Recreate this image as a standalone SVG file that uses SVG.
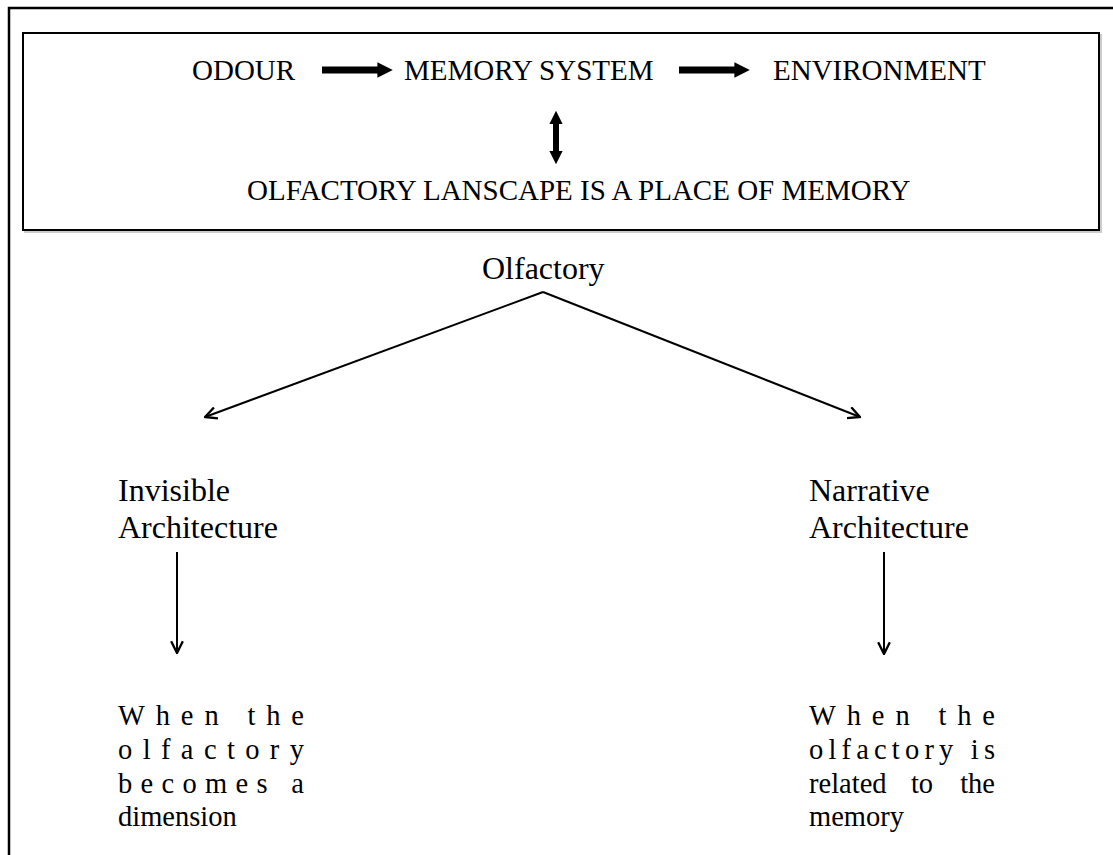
<svg xmlns="http://www.w3.org/2000/svg" width="1113" height="855" viewBox="0 0 1113 855">
  <style>
    .t { font-family: "Liberation Serif", "Times New Roman", serif; fill: #000; }
    .cap { font-size: 29px; }
    .lab { font-size: 32px; }
    .par { font-size: 28.5px; }
    .thin { stroke: #000; stroke-width: 2; fill: none; }
    .bold { stroke: #000; stroke-width: 7; fill: none; }
  </style>
  <defs>
    <marker id="open" viewBox="0 0 12 12" refX="11" refY="6" markerWidth="7" markerHeight="7" orient="auto" markerUnits="strokeWidth">
      <path d="M1,1 L11,6 L1,11" fill="none" stroke="#000" stroke-width="2"/>
    </marker>
    <marker id="solid" viewBox="0 0 10 10" refX="3" refY="5" markerWidth="2.2" markerHeight="2.2" orient="auto-start-reverse" markerUnits="strokeWidth">
      <path d="M0,0 L10,5 L0,10 Z" fill="#000"/>
    </marker>
  </defs>

  <rect width="1113" height="855" fill="#fff"/>

  <!-- page frame -->
  <path d="M9,855 V8 H1113" fill="none" stroke="#000" stroke-width="2.5"/>

  <!-- header box -->
  <g id="header">
    <rect x="25" y="35" width="1076" height="197" fill="none" stroke="#ccc" stroke-width="2"/>
    <rect x="23" y="33" width="1076" height="197" fill="#fff" stroke="#000" stroke-width="2"/>
    <g id="odour"><text class="t cap" x="192" y="80">ODOUR</text></g>
    <g id="memory-system"><text class="t cap" x="404" y="80">MEMORY SYSTEM</text></g>
    <g id="environment"><text class="t cap" x="773" y="80">ENVIRONMENT</text></g>
    <g id="landscape"><text class="t cap" x="247" y="200">OLFACTORY LANSCAPE IS A PLACE OF MEMORY</text></g>
  </g>

  <g id="olfactory"><text class="t lab" x="482" y="279">Olfactory</text></g>

  <g id="invisible">
    <text class="t lab" x="118" y="501">Invisible</text>
    <text class="t lab" x="118" y="538">Architecture</text>
  </g>

  <g id="narrative">
    <text class="t lab" x="809" y="501">Narrative</text>
    <text class="t lab" x="809" y="538">Architecture</text>
  </g>

  <g id="invisible-note">
    <text class="t par" x="118" y="725" textLength="186" lengthAdjust="spacing">When the</text>
    <text class="t par" x="118" y="759" textLength="186" lengthAdjust="spacing">olfactory</text>
    <text class="t par" x="118" y="793" textLength="186" lengthAdjust="spacing">becomes a</text>
    <text class="t par" x="118" y="826">dimension</text>
  </g>

  <g id="narrative-note">
    <text class="t par" x="809" y="725" textLength="186" lengthAdjust="spacing">When the</text>
    <text class="t par" x="809" y="759" textLength="186" lengthAdjust="spacing">olfactory is</text>
    <text class="t par" x="809" y="793">related</text>
    <text class="t par" x="922" y="793" text-anchor="middle">to</text>
    <text class="t par" x="995" y="793" text-anchor="end">the</text>
    <text class="t par" x="809" y="826">memory</text>
  </g>

  <g id="connectors">
    <line class="bold" x1="322" y1="70" x2="382" y2="70" marker-end="url(#solid)"/>
    <line class="bold" x1="679" y1="70" x2="739" y2="70" marker-end="url(#solid)"/>
    <line x1="556" y1="120" x2="556" y2="155" stroke="#000" stroke-width="6" marker-start="url(#solid)" marker-end="url(#solid)"/>
    <line class="thin" x1="543" y1="292" x2="205" y2="417" marker-end="url(#open)"/>
    <line class="thin" x1="543" y1="292" x2="860" y2="417" marker-end="url(#open)"/>
    <line class="thin" x1="177" y1="552" x2="177" y2="653" marker-end="url(#open)"/>
    <line class="thin" x1="884" y1="552" x2="884" y2="654" marker-end="url(#open)"/>
  </g>
</svg>
